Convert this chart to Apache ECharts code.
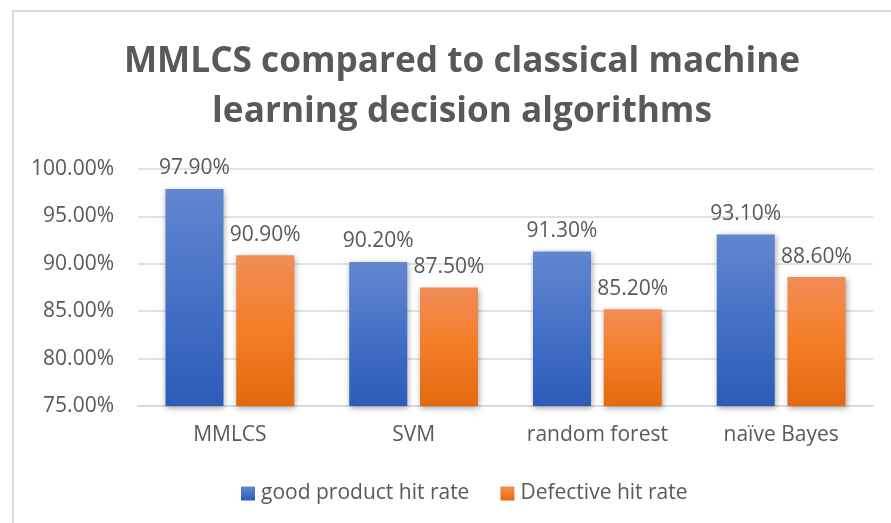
<!DOCTYPE html>
<html>
<head>
<meta charset="utf-8">
<script src="https://cdn.jsdelivr.net/npm/echarts@6/dist/echarts.min.js"></script>
<style>
html,body{margin:0;padding:0;background:#fff;}
#chart{width:891px;height:523px;}
</style>
</head>
<body>
<div id="chart"></div>
<script>
const categories = ['MMLCS', 'SVM', 'random forest', 'naïve Bayes'];
const goodRate = [97.9, 90.2, 91.3, 93.1];
const defectRate = [90.9, 87.5, 85.2, 88.6];
const seriesNames = ['good product hit rate', 'Defective hit rate'];
const titleLines = ['MMLCS compared to classical machine', 'learning decision algorithms'];

const textColor = '#595959';
const font = '"Open Sans", sans-serif';

function grad(top, mid, bottom) {
  return {type: 'linear', x: 0, y: 0, x2: 0, y2: 1,
    colorStops: [{offset: 0, color: top}, {offset: 0.5, color: mid}, {offset: 1, color: bottom}]};
}

const chart = echarts.init(document.getElementById('chart'), null, {renderer: 'canvas'});
const labelCfg = {
  show: true, position: 'top', distance: 10,
  color: textColor, fontFamily: font, fontSize: 21,
  formatter: p => p.value.toFixed(2) + '%'
};
chart.setOption({
  backgroundColor: '#ffffff',
  animation: false,
  title: {
    text: titleLines.join('\n'),
    left: 457, top: 32, textAlign: 'center',
    textStyle: {color: textColor, fontFamily: font, fontWeight: 'bold', fontSize: 35.2, lineHeight: 50}
  },
  graphic: [{
    type: 'rect', silent: true, z: -10,
    shape: {x: 13, y: 11, width: 920, height: 600},
    style: {fill: 'none', stroke: '#d9d9d9', lineWidth: 2}
  }],
  legend: {
    data: seriesNames,
    left: 236, top: 478,
    icon: 'rect', itemWidth: 14, itemHeight: 14, itemGap: 31,
    textStyle: {color: textColor, fontFamily: font, fontSize: 21, padding: [0, 0, 0, 1]}
  },
  grid: {left: 138, right: 18, top: 169, bottom: 117, containLabel: false},
  xAxis: {
    type: 'category', data: categories,
    axisLine: {lineStyle: {color: '#d9d9d9', width: 2}},
    axisTick: {show: false},
    axisLabel: {color: textColor, fontFamily: font, fontSize: 21, margin: 19}
  },
  yAxis: {
    type: 'value', min: 75, max: 100, interval: 5,
    axisLine: {show: false}, axisTick: {show: false},
    splitLine: {lineStyle: {color: '#d9d9d9', width: 1.5}},
    axisLabel: {color: textColor, fontFamily: font, fontSize: 21, margin: 24,
      formatter: v => v.toFixed(2) + '%'}
  },
  series: [{
    name: seriesNames[0], type: 'bar', data: goodRate,
    barWidth: 58, barGap: '22%',
    itemStyle: {color: grad('#6286d0', '#4471c6', '#2c5cb8'),
      shadowBlur: 6, shadowColor: 'rgba(0,0,0,0.35)', shadowOffsetX: 1, shadowOffsetY: 2},
    label: labelCfg
  }, {
    name: seriesNames[1], type: 'bar', data: defectRate,
    barWidth: 58,
    itemStyle: {color: grad('#f18d56', '#f47d27', '#e3690f'),
      shadowBlur: 6, shadowColor: 'rgba(0,0,0,0.35)', shadowOffsetX: 1, shadowOffsetY: 2},
    label: labelCfg
  }]
});
</script>
</body>
</html>
